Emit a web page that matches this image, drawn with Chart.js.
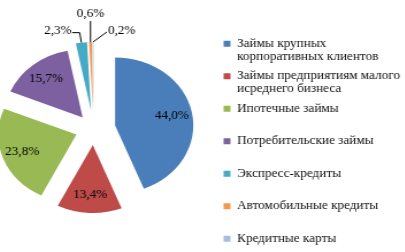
<!DOCTYPE html>
<html>
<head>
<meta charset="utf-8">
<script src="https://cdn.jsdelivr.net/npm/chart.js@4/dist/chart.umd.min.js"></script>
<style>
html, body { margin: 0; padding: 0; background: #fff; overflow: hidden; }
#wrap { width: 405px; height: 252px; overflow: hidden; }
#pie { margin-left: -30.5px; transform: scaleX(1.15); transform-origin: 0 0; }
</style>
</head>
<body>
<div id="wrap"><canvas id="pie" width="400" height="252"></canvas></div>
<script>
// loan portfolio structure, %
const categories = [
    ['Займы крупных', 'корпоративных клиентов'],
    ['Займы предприятиям малого', 'исреднего бизнеса'],
    ['Ипотечные займы', ''],
    ['Потребительские займы', ''],
    ['Экспресс-кредиты', ''],
    ['Автомобильные кредиты', ''],
    'Кредитные карты'
];
const shares = [44.0, 13.4, 23.8, 15.7, 2.3, 0.6, 0.2];

const colors = ['#4A7EBB', '#BE4B48', '#98B954', '#7D60A0', '#46AAC5', '#F79646', '#A5BDE0'];
// how far each slice is pulled out of the pie
const explode = [19, 16, 16, 15, 19, 19, 19];
// small slices get their label outside with a leader line
const callout = [null, null, null, null, 'left', 'up', 'right'];

const FAMILY = '"Liberation Serif", "Times New Roman", "DejaVu Serif", serif';
const FONT_SIZE = 11.5;
const LEGEND_LEFT = 214;

function fmt(v)
{
    return v.toFixed(1).replace('.', ',') + '%';
}

// draws each arc shifted along its middle angle, without changing its radius
const explodePlugin = {
    id: 'explode',
    beforeDatasetDraw(chart, args)
    {
        const ctx = chart.ctx;
        args.meta.data.forEach((arc, i) => {
            const mid = (arc.startAngle + arc.endAngle) / 2;
            ctx.save();
            ctx.translate(Math.cos(mid) * explode[i], Math.sin(mid) * explode[i]);
            arc.draw(ctx);
            ctx.restore();
        });
        return false;
    }
};

const labelPlugin = {
    id: 'sliceLabels',
    afterDatasetsDraw(chart)
    {
        const ctx = chart.ctx;
        const meta = chart.getDatasetMeta(0);

        ctx.save();
        ctx.font = FONT_SIZE + 'px ' + FAMILY;
        ctx.fillStyle = '#000';
        ctx.strokeStyle = '#000';
        ctx.lineWidth = 1;

        meta.data.forEach((arc, i) => {
            const mid = (arc.startAngle + arc.endAngle) / 2;
            const cos = Math.cos(mid);
            const sin = Math.sin(mid);
            const cx = arc.x + cos * explode[i];
            const cy = arc.y + sin * explode[i];
            const text = fmt(shares[i]);

            if (!callout[i])
            {
                const r = arc.outerRadius * 0.74;
                ctx.textAlign = 'center';
                ctx.textBaseline = 'middle';
                ctx.fillText(text, cx + cos * r, cy + sin * r);
                return;
            }

            const px = cx + cos * arc.outerRadius;
            const py = cy + sin * arc.outerRadius;
            ctx.beginPath();
            ctx.moveTo(px, py);
            ctx.textBaseline = 'middle';
            if (callout[i] === 'left')
            {
                ctx.lineTo(px - 1.5, py - 10);
                ctx.lineTo(px - 8, py - 10);
                ctx.textAlign = 'right';
                ctx.fillText(text, px - 8.5, py - 11.5);
            }
            else if (callout[i] === 'up')
            {
                ctx.lineTo(px, py - 21);
                ctx.textAlign = 'center';
                ctx.fillText(text, px, py - 28);
            }
            else
            {
                ctx.lineTo(px + 12, py - 10);
                ctx.textAlign = 'left';
                ctx.fillText(text, px + 13, py - 11);
            }
            ctx.stroke();
        });
        ctx.restore();
    }
};

function draw()
{
    const canvas = document.getElementById('pie');

    const chart = new Chart(canvas, {
        type: 'pie',
        data: {
            labels: categories,
            datasets: [{
                data: shares,
                backgroundColor: colors,
                borderWidth: 0,
                radius: 68,
                clip: false
            }]
        },
        options: {
            responsive: false,
            animation: false,
            layout: {
                padding: {left: 1, right: 0, top: 7, bottom: 1}
            },
            plugins: {
                tooltip: {enabled: false},
                legend: {
                    position: 'right',
                    align: 'end',
                    labels: {
                        boxWidth: 6,
                        boxHeight: 6,
                        padding: 6.5,
                        color: '#111',
                        font: {family: FAMILY, size: FONT_SIZE, lineHeight: '13px'}
                    }
                }
            }
        },
        plugins: [explodePlugin, labelPlugin]
    });

    // pad on the right so the legend (and the pie beside it) sit where the original has them
    chart.options.layout.padding.right = Math.max(chart.width - LEGEND_LEFT - chart.legend.width, 0);
    chart.update();
}

document.fonts.load('12px "Liberation Serif"').then(draw, draw);
</script>
</body>
</html>
